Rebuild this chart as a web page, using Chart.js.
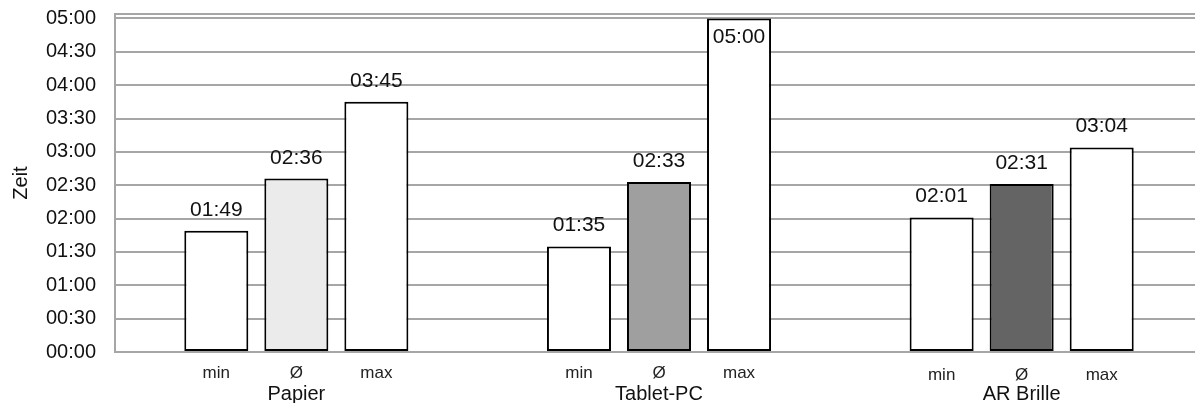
<!DOCTYPE html>
<html>
<head>
<meta charset="utf-8">
<script src="https://cdn.jsdelivr.net/npm/chart.js@4"></script>
<style>
  html, body { margin: 0; padding: 0; background: #fff; overflow: hidden; }
  #wrap { width: 1195px; height: 403px; overflow: hidden; }
</style>
</head>
<body>
<div id="wrap"><canvas id="myChart" width="1203" height="403"></canvas></div>
<script>
"use strict";
// data, all times in seconds
const groups = ["Papier", "Tablet-PC", "AR Brille"];
const subLabels = ["min", "Ø", "max"];
const minSec = [109, 95, 121];
const avgSec = [156, 153, 151];
const maxSec = [225, 300, 184];
const yTicks = [0, 30, 60, 90, 120, 150, 180, 210, 240, 270, 300];
const yMax = 304;

const avgColors = ["#ebebeb", "#9f9f9f", "#646464"];
const FONT = "'Liberation Sans', Arial, sans-serif";

function fmt(sec) {
  let m = Math.floor(sec / 60);
  let s = Math.round(sec % 60);
  return String(m).padStart(2, "0") + ":" + String(s).padStart(2, "0");
}

// value labels above bars and min/Ø/max under each bar
const barText = {
  id: "barText",
  afterDatasetsDraw(chart) {
    const ctx = chart.ctx;
    const area = chart.chartArea;
    ctx.save();
    ctx.textAlign = "center";
    ctx.textBaseline = "alphabetic";
    chart.data.datasets.forEach((ds, di) => {
      const meta = chart.getDatasetMeta(di);
      meta.data.forEach((bar, i) => {
        ctx.fillStyle = "#111";
        ctx.font = "21px " + FONT;
        let y = bar.y - 15;
        if (y - 16 < area.top) y = bar.y + 25;
        ctx.fillText(fmt(ds.data[i]), bar.x, y);
        ctx.font = "17px " + FONT;
        ctx.fillStyle = "#222";
        ctx.fillText(subLabels[di], bar.x, area.bottom + 26 + (i === 2 ? 2 : 0));
      });
    });
    ctx.restore();
  }
};

function makeChart() {
  let ctx = document.getElementById("myChart");
  let mk = (label, data, bg) => ({
    label: label,
    data: data,
    backgroundColor: bg,
    borderColor: "#000",
    borderWidth: 2,
    borderSkipped: false,
    categoryPercentage: 0.662,
    barPercentage: 0.8
  });
  new Chart(ctx, {
    type: "bar",
    data: {
      labels: groups,
      datasets: [
        mk(subLabels[0], minSec, "#fff"),
        mk(subLabels[1], avgSec, avgColors),
        mk(subLabels[2], maxSec, "#fff")
      ]
    },
    plugins: [barText],
    options: {
      responsive: false,
      animation: false,
      layout: { padding: { top: 14, right: 0, bottom: 0, left: 0 } },
      plugins: {
        legend: { display: false },
        tooltip: { enabled: false }
      },
      scales: {
        x: {
          grid: { display: false, drawTicks: false },
          border: { display: true, color: "#a6a6a6", width: 2 },
          ticks: {
            color: "#111",
            padding: 32,
            maxRotation: 0,
            font: { family: FONT, size: 20, lineHeight: 1 }
          },
          afterFit: scale => {
            scale.height = 51;
          }
        },
        y: {
          min: 0,
          max: yMax,
          afterBuildTicks: scale => {
            scale.ticks = yTicks.concat([yMax]).map(v => ({ value: v }));
          },
          afterFit: scale => {
            scale.width = 115;
            scale.paddingTop = 0;
            scale.paddingBottom = 0;
          },
          grid: { color: "#a6a6a6", lineWidth: 2, drawTicks: false },
          border: { display: true, color: "#a6a6a6", width: 2 },
          ticks: {
            color: "#111",
            padding: 19,
            autoSkip: false,
            font: { family: FONT, size: 20 },
            callback: v => (v === yMax ? "" : fmt(v))
          },
          title: {
            display: true,
            text: "Zeit",
            color: "#111",
            font: { family: FONT, size: 20 },
            padding: { top: 9, bottom: 10 }
          }
        }
      }
    }
  });
}

makeChart();
</script>
</body>
</html>
